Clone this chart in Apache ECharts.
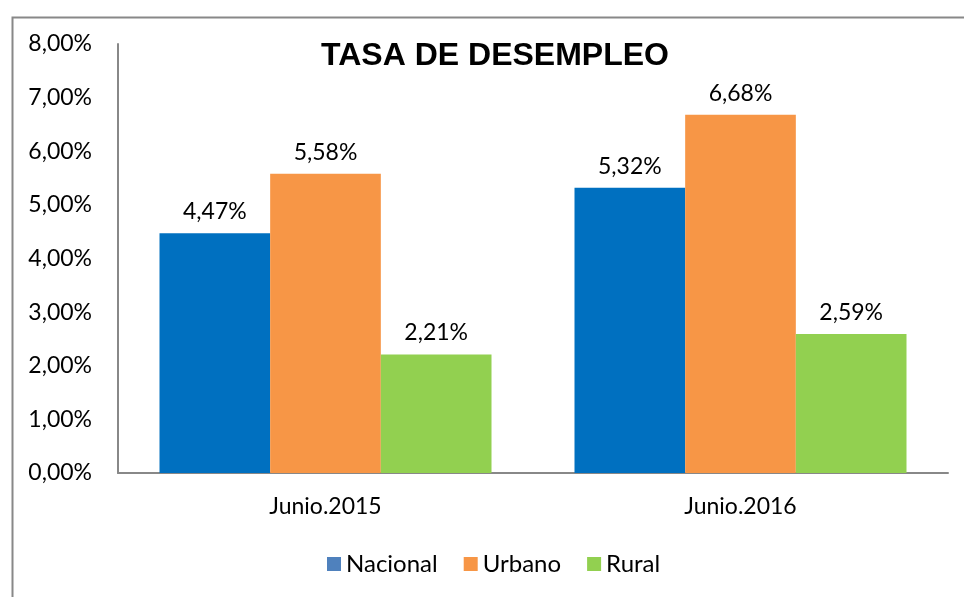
<!DOCTYPE html>
<html>
<head>
<meta charset="utf-8">
<script src="https://cdn.jsdelivr.net/npm/echarts@6/dist/echarts.min.js"></script>
<style>
  html, body { margin: 0; padding: 0; background: #fff; }
  #chart { width: 964px; height: 597px; }
</style>
</head>
<body>
<div id="chart"></div>
<script>
var categories = ["Junio.2015", "Junio.2016"];
var nacional = [4.47, 5.32];
var urbano = [5.58, 6.68];
var rural = [2.21, 2.59];
var yTicks = { min: 0, max: 8, interval: 1 };

var fmt = function (v) {
  return Number(v).toFixed(2).replace(".", ",") + "%";
};

var font = "Lato";
var chart = echarts.init(document.getElementById("chart"));

var labelStyle = {
  show: true,
  position: "top",
  distance: 10,
  color: "#000",
  fontSize: 23,
  fontFamily: font,
  formatter: function (p) { return fmt(p.value); }
};

var option = {
  animation: false,
  title: {
    text: "TASA DE DESEMPLEO",
    left: 490,
    top: 35,
    textAlign: "center",
    textStyle: {
      fontFamily: "Liberation Sans",
      fontWeight: "bold",
      fontSize: 32,
      color: "#000"
    }
  },
  graphic: [
    {
      type: "rect",
      left: 10,
      top: 15,
      shape: { width: 1000, height: 1000 },
      style: { fill: "none", stroke: "#888", lineWidth: 2 },
      silent: true
    }
  ],
  legend: {
    bottom: 16,
    left: 322,
    itemWidth: 14,
    itemHeight: 14,
    itemGap: 26,
    icon: "rect",
    textStyle: { fontFamily: font, fontSize: 24, color: "#000" },
    data: [
      { name: "Nacional", itemStyle: { color: "#4F81BD" } },
      { name: "Urbano", itemStyle: { color: "#F79646" } },
      { name: "Rural", itemStyle: { color: "#92D050" } }
    ]
  },
  grid: {
    left: 118,
    right: 16,
    top: 44,
    bottom: 124
  },
  xAxis: {
    type: "category",
    data: categories,
    axisLine: { show: true, lineStyle: { color: "#888", width: 2 } },
    axisTick: { show: false },
    axisLabel: { color: "#000", fontSize: 23, fontFamily: font, margin: 22 }
  },
  yAxis: {
    type: "value",
    min: yTicks.min,
    max: yTicks.max,
    interval: yTicks.interval,
    axisLine: { show: true, lineStyle: { color: "#888", width: 2 } },
    axisTick: { show: false },
    splitLine: { show: false },
    axisLabel: {
      color: "#000",
      fontSize: 23,
      fontFamily: font,
      margin: 26,
      formatter: fmt
    }
  },
  series: [
    {
      name: "Nacional",
      type: "bar",
      data: nacional,
      barGap: 0,
      barCategoryGap: "20%",
      itemStyle: { color: "#0070C0" },
      label: labelStyle
    },
    {
      name: "Urbano",
      type: "bar",
      data: urbano,
      itemStyle: { color: "#F79646" },
      label: labelStyle
    },
    {
      name: "Rural",
      type: "bar",
      data: rural,
      itemStyle: { color: "#92D050" },
      label: labelStyle
    }
  ]
};

chart.setOption(option);
</script>
</body>
</html>
